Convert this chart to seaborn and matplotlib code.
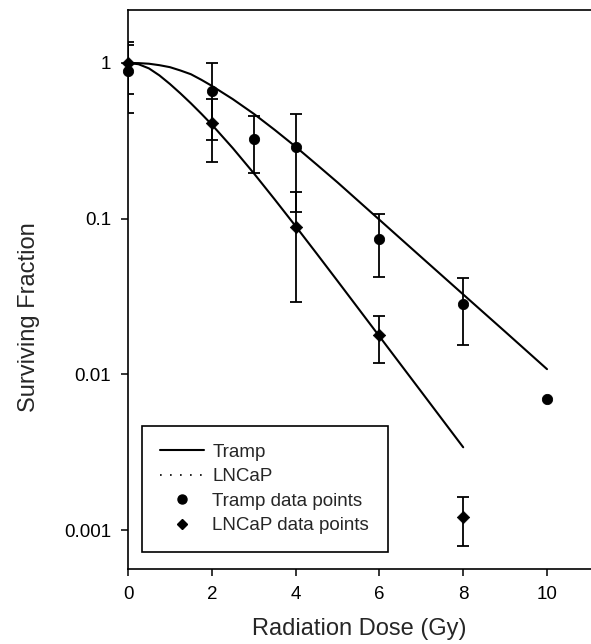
import numpy as np
import matplotlib
matplotlib.use("Agg")
import matplotlib.pyplot as plt
from matplotlib.lines import Line2D
from matplotlib.ticker import FixedLocator, NullLocator
import seaborn as sns

# fitted survival curves
tramp_fit_dose = [0, 0.25, 0.5, 0.75, 1, 1.25, 1.5, 1.75, 2, 2.5, 3, 3.5,
                  4, 4.5, 5, 6, 7, 8, 9, 10]
tramp_fit = [1.0, 0.998, 0.989, 0.968, 0.940, 0.895, 0.847, 0.78, 0.713,
             0.586, 0.472, 0.372, 0.290, 0.223, 0.171, 0.0984, 0.0566,
             0.0326, 0.0188, 0.0108]

lncap_fit_dose = [0, 0.25, 0.5, 0.75, 1, 1.25, 1.5, 1.75, 2, 2.5, 3, 3.5,
                  4, 4.5, 5, 6, 7, 8]
lncap_fit = [1.0, 0.982, 0.923, 0.832, 0.733, 0.638, 0.551, 0.472, 0.402,
             0.284, 0.196, 0.133, 0.0895, 0.0598, 0.0398, 0.01754,
             0.00773, 0.0034]

# measured points with error bars
tramp_dose = [0, 2, 3, 4, 6, 8, 10]
tramp_sf = [0.89, 0.66, 0.326, 0.29, 0.0744, 0.0285, 0.0069]
tramp_err = [0.41, 0.34, 0.13, 0.18, 0.032, 0.013, 0.0]

lncap_dose = [0, 2, 4, 6, 8]
lncap_sf = [1.0, 0.41, 0.089, 0.0178, 0.00121]
lncap_err = [0.37, 0.18, 0.06, 0.006, 0.00042]

sns.set_style("ticks")
plt.rcParams["font.family"] = ["Liberation Sans", "DejaVu Sans"]

fig = plt.figure(figsize=(5.91, 6.44), dpi=100)
ax = fig.add_axes([0.2166, 0.1165, 0.7834, 0.868])

sns.lineplot(x=tramp_fit_dose, y=tramp_fit, ax=ax, color="black",
             linewidth=1.5, estimator=None, sort=False)
sns.lineplot(x=lncap_fit_dose, y=lncap_fit, ax=ax, color="black",
             linewidth=1.5, estimator=None, sort=False)

# error bars only where there is one
t = [(d, s, e) for d, s, e in zip(tramp_dose, tramp_sf, tramp_err) if e > 0]
ax.errorbar([a[0] for a in t], [a[1] for a in t], yerr=[a[2] for a in t],
            fmt="none", ecolor="black", elinewidth=1.3, capsize=4,
            capthick=1.3)
ax.errorbar(lncap_dose, lncap_sf, yerr=lncap_err, fmt="none",
            ecolor="black", elinewidth=1.3, capsize=4, capthick=1.3)

sns.scatterplot(x=tramp_dose, y=tramp_sf, ax=ax, color="black", marker="o",
                s=55, edgecolor="black", zorder=5, clip_on=False)
sns.scatterplot(x=lncap_dose, y=lncap_sf, ax=ax, color="black", marker="D",
                s=40, edgecolor="black", zorder=5, clip_on=False)

ax.set_yscale("log")
ax.set_xlim(0, 11.05)
ax.set_ylim(0.000562, 2.19)

ax.xaxis.set_major_locator(FixedLocator([0, 2, 4, 6, 8, 10]))
ax.yaxis.set_major_locator(FixedLocator([0.001, 0.01, 0.1, 1]))
ax.yaxis.set_minor_locator(NullLocator())
ax.set_yticklabels(["0.001", "0.01", "0.1", "1"])
ax.tick_params(axis="both", which="major", labelsize=13.5, length=5,
               width=1.1, pad=7, color="black", labelcolor="black")

ax.spines["right"].set_visible(False)
for side in ["left", "bottom", "top"]:
    ax.spines[side].set_linewidth(1.2)
    ax.spines[side].set_color("black")

ax.set_xlabel("Radiation Dose (Gy)", fontsize=17)
ax.set_ylabel("Surviving Fraction", fontsize=17)
ax.xaxis.set_label_coords(0.5, -0.088)
ax.yaxis.set_label_coords(-0.19, 0.45)

handles = [
    Line2D([], [], color="black", linewidth=1.5, linestyle="-"),
    Line2D([], [], color="black", linewidth=1.2, linestyle=(0, (1, 5))),
    Line2D([], [], color="black", marker="o", linestyle="none", markersize=6.5),
    Line2D([], [], color="black", marker="D", linestyle="none", markersize=5.5),
]
labels = ["Tramp", "LNCaP", "Tramp data points", "LNCaP data points"]
leg = ax.legend(handles, labels, loc="lower left",
                bbox_to_anchor=(0.240, 0.143, 0.4165, 0.197),
                bbox_transform=fig.transFigure, mode="expand",
                fontsize=13.5, frameon=True, fancybox=False, framealpha=1,
                edgecolor="black", handlelength=2.35, handletextpad=0.45,
                labelspacing=0.39, borderpad=0.95, numpoints=1,
                borderaxespad=0)
leg.get_frame().set_linewidth(1.2)

plt.savefig("out.png", dpi=100)
